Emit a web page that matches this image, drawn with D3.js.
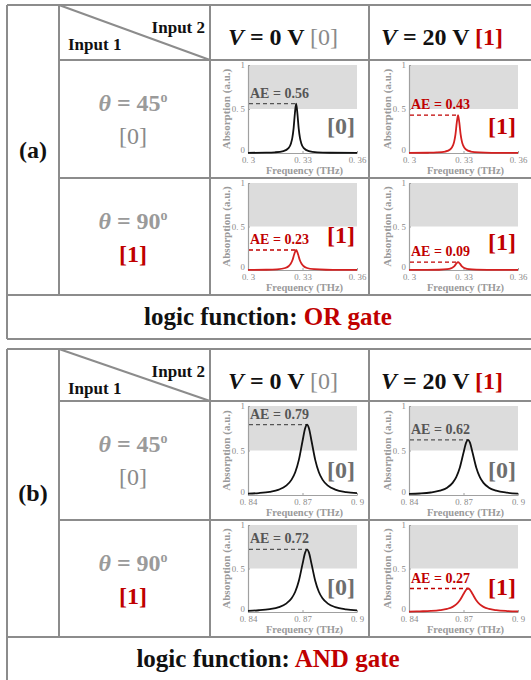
<!DOCTYPE html>
<html><head><meta charset="utf-8">
<script src="https://cdn.jsdelivr.net/npm/d3@7"></script>
<style>
body{margin:0;background:#fff}
svg{display:block}
text{font-family:"Liberation Serif","Times New Roman",serif}
</style>
</head><body>
<svg id="chart" width="531" height="680"></svg>
<script>
// ---------------- data ----------------
const panelLabels = ["(a)", "(b)"];
const gateNames = ["OR gate", "AND gate"];
const thetaValues = ["45", "90"];
const input1Bits = [0, 1];
const voltValues = ["0", "20"];
const input2Bits = [0, 1];

const freqTicksA = [0.3, 0.33, 0.36];
const freqTickLabelsA = ["0. 3", "0. 33", "0. 36"];
const freqTicksB = [0.84, 0.87, 0.9];
const freqTickLabelsB = ["0. 84", "0. 87", "0. 9"];
const absTicks = [0, 0.5, 1];
const absTickLabels = ["0", "0. 5", "1"];

const aeA = [[0.56, 0.43], [0.23, 0.09]];
const aeB = [[0.79, 0.62], [0.72, 0.27]];
const outA = [[0, 1], [1, 1]];
const outB = [[0, 0], [0, 1]];

// (a) spectra
const freqA45V0 = [0.300,0.310,0.3148,0.3195,0.3223,0.3237,0.3244,0.3251,0.3258,0.3265,0.3272,0.3279,0.3286,0.3293,0.3307,0.3335,0.3382,0.345,0.360];
const absA45V0  = [0.002,0.004,0.008,0.022,0.056,0.112,0.172,0.280,0.448,0.560,0.448,0.280,0.172,0.112,0.056,0.022,0.008,0.003,0.001];
const freqA45V20 = [0.300,0.3105,0.3153,0.320,0.3228,0.3242,0.3249,0.3256,0.3263,0.327,0.3277,0.3284,0.3291,0.3298,0.3312,0.334,0.3387,0.3455,0.360];
const absA45V20  = [0.001,0.003,0.006,0.017,0.043,0.086,0.132,0.215,0.344,0.430,0.344,0.215,0.132,0.086,0.043,0.017,0.006,0.002,0.001];
const freqA90V0 = [0.300,0.310,0.316,0.3205,0.3225,0.3235,0.3245,0.3255,0.3265,0.3275,0.3285,0.3295,0.3305,0.3325,0.3365,0.343,0.350,0.360];
const absA90V0  = [0.001,0.003,0.008,0.023,0.046,0.071,0.115,0.184,0.230,0.184,0.115,0.071,0.046,0.023,0.009,0.003,0.002,0.001];
const freqA90V20 = [0.300,0.310,0.3165,0.321,0.323,0.324,0.325,0.326,0.327,0.328,0.329,0.330,0.331,0.333,0.337,0.3435,0.350,0.360];
const absA90V20  = [0.0005,0.001,0.003,0.009,0.018,0.028,0.045,0.072,0.090,0.072,0.045,0.028,0.018,0.009,0.0035,0.0013,0.0007,0.0003];

// (b) spectra
const freqB = [0.840,0.846,0.852,0.857,0.861,0.864,0.866,0.868,0.870,0.8715,0.8725,0.8735,0.875,0.877,0.879,0.881,0.884,0.888,0.894,0.900];
const absB45V0  = [0.015,0.022,0.036,0.061,0.105,0.173,0.256,0.395,0.604,0.753,0.790,0.753,0.604,0.395,0.256,0.173,0.105,0.061,0.033,0.021];
const absB45V20 = [0.012,0.017,0.028,0.048,0.082,0.136,0.201,0.310,0.474,0.591,0.620,0.591,0.474,0.310,0.201,0.136,0.082,0.048,0.026,0.016];
const absB90V0  = [0.014,0.020,0.033,0.056,0.096,0.158,0.233,0.360,0.550,0.686,0.720,0.686,0.550,0.360,0.233,0.158,0.096,0.056,0.030,0.019];
const absB90V20 = [0.005,0.008,0.012,0.021,0.036,0.059,0.087,0.135,0.206,0.257,0.270,0.257,0.206,0.135,0.087,0.059,0.036,0.021,0.011,0.007];

// ---------------- build ----------------
const panels = [
  { label: panelLabels[0], gate: gateNames[0], ae: aeA, out: outA,
    xDomain: [0.3, 0.36], xTicks: freqTicksA, xTickLabels: freqTickLabelsA,
    curves: [[[freqA45V0, absA45V0], [freqA45V20, absA45V20]],
             [[freqA90V0, absA90V0], [freqA90V20, absA90V20]]] },
  { label: panelLabels[1], gate: gateNames[1], ae: aeB, out: outB,
    xDomain: [0.84, 0.9], xTicks: freqTicksB, xTickLabels: freqTickLabelsB,
    curves: [[[freqB, absB45V0], [freqB, absB45V20]],
             [[freqB, absB90V0], [freqB, absB90V20]]] }
];

// layout (pixels)
const layout = [
  { rows: [5, 60, 178, 295, 339], bigY: [[0.22, 0.22], [0.31, 0.23]] },
  { rows: [349, 401, 520, 637, 720], bigY: [[0.19, 0.19], [0.19, 0.2]] }
];
const colX = [7, 59, 210, 369, 533];
const plotOffX = [38, 40];
const plotW = 109;

const RED = "#c00000", CURVE_RED = "#d42020", GRID = "#8c8c8c";
const svg = d3.select("#chart");
svg.append("rect").attr("width", 531).attr("height", 680).attr("fill", "#fff");

panels.forEach((P, pi) => {
  const L = layout[pi];
  const R = L.rows;
  const g = svg.append("g");

  // ---- plots ----
  for (let r = 0; r < 2; r++) {
    for (let c = 0; c < 2; c++) {
      const x0 = colX[2 + c] + plotOffX[c];
      const y0 = R[1 + r] + 5;
      const plotH = R[2 + r] - R[1 + r] - 30;
      const x = d3.scaleLinear().domain(P.xDomain).range([x0, x0 + plotW]);
      const y = d3.scaleLinear().domain([0, 1]).range([y0 + plotH, y0]);
      const bit = P.out[r][c];
      const pg = g.append("g");
      pg.append("rect").attr("x", x0).attr("y", y(1)).attr("width", plotW)
        .attr("height", y(0.5) - y(1)).attr("fill", "#dcdcdc");

      const xa = pg.append("g").attr("transform", `translate(0,${y(0)})`)
        .call(d3.axisBottom(x).tickValues(P.xTicks).tickSizeInner(-2).tickSizeOuter(0)
          .tickFormat((d, i) => P.xTickLabels[i]));
      const ya = pg.append("g").attr("transform", `translate(${x0},0)`)
        .call(d3.axisLeft(y).tickValues(absTicks).tickSizeInner(-2).tickSizeOuter(0)
          .tickFormat((d, i) => absTickLabels[i]));
      [xa, ya].forEach(a => {
        a.select(".domain").attr("stroke", "#a0a0a0").attr("stroke-width", 1.2);
        a.selectAll(".tick line").attr("stroke", "#a0a0a0");
        a.selectAll("text").attr("fill", "#8a8a8a").style("font-size", "8.8px")
          .style("font-family", "'Liberation Serif',serif");
      });
      xa.selectAll("text").attr("y", 9.5).attr("dy", 0);
      ya.selectAll("text").attr("x", -3).attr("dy", (d) => d === 0 ? "-0.08em" : "0.32em");

      pg.append("text").attr("x", (x0 + x0 + plotW) / 2 + 2).attr("y", y(0) + 20.8)
        .attr("text-anchor", "middle").attr("fill", "#9a9a9a")
        .style("font-size", "10.5px").style("font-weight", "bold").text("Frequency (THz)");
      pg.append("text").attr("transform", `translate(${x0 - 18},${(y(0) + y(1)) / 2}) rotate(-90)`)
        .attr("text-anchor", "middle").attr("fill", "#9a9a9a")
        .style("font-size", "11px").style("font-weight", "bold").text("Absorption (a.u.)");

      const [fx, fy] = P.curves[r][c];
      const pts = fx.map((f, i) => [f, fy[i]]);
      const ae = P.ae[r][c];
      const peakIdx = d3.maxIndex(fy);
      const annCol = bit ? RED : "#555";
      pg.append("line").attr("x1", x0 + 1).attr("x2", x(fx[peakIdx]))
        .attr("y1", y(ae)).attr("y2", y(ae)).attr("stroke", annCol)
        .attr("stroke-width", 1.3).attr("stroke-dasharray", "4,3");
      pg.append("path").datum(pts)
        .attr("d", d3.line().x(d => x(d[0])).y(d => y(d[1])).curve(d3.curveMonotoneX))
        .attr("fill", "none").attr("stroke", bit ? CURVE_RED : "#111").attr("stroke-width", 1.8);
      pg.append("text").attr("x", x0 + 2).attr("y", y(ae) - 6).attr("fill", annCol)
        .style("font-size", "14px").style("font-weight", "bold").text(`AE = ${ae.toFixed(2)}`);
      pg.append("text").attr("x", x0 + plotW - 2).attr("y", y(L.bigY[r][c]))
        .attr("text-anchor", "end").attr("fill", bit ? RED : "#6e6e6e")
        .style("font-size", "24px").style("font-weight", "bold").text(`[${bit}]`);
    }
  }

  // ---- table lines ----
  const line = (x1, y1, x2, y2) => g.append("line").attr("x1", x1).attr("y1", y1)
    .attr("x2", x2).attr("y2", y2).attr("stroke", GRID).attr("stroke-width", 2);
  line(colX[0], R[0], colX[4], R[0]);
  line(colX[0], R[0], colX[0], R[4]);
  line(colX[1], R[0], colX[1], R[3]);
  line(colX[2], R[0], colX[2], R[3]);
  line(colX[3], R[0], colX[3], R[3]);
  line(colX[1], R[1], colX[4], R[1]);
  line(colX[1], R[2], colX[4], R[2]);
  line(colX[0], R[3], colX[4], R[3]);
  line(colX[0], R[4], colX[4], R[4]);
  line(colX[1], R[0], colX[2], R[1]);

  // ---- header texts ----
  g.append("text").attr("x", colX[2] - 5).attr("y", R[0] + 28).attr("text-anchor", "end")
    .style("font-size", "17px").style("font-weight", "bold").attr("fill", "#111").text("Input 2");
  g.append("text").attr("x", colX[1] + 9).attr("y", R[0] + 45)
    .style("font-size", "17px").style("font-weight", "bold").attr("fill", "#111").text("Input 1");

  const vCenters = [283, 442];
  for (let c = 0; c < 2; c++) {
    const t = g.append("text").attr("x", vCenters[c]).attr("y", R[0] + 40)
      .attr("text-anchor", "middle").style("font-size", "24px").style("font-weight", "bold").attr("fill", "#111");
    t.append("tspan").style("font-style", "italic").text("V");
    t.append("tspan").text(` = ${voltValues[c]} V `);
    const b = input2Bits[c];
    t.append("tspan").attr("fill", b ? RED : "#8a8a8a").style("font-weight", b ? "bold" : "normal").text(`[${b}]`);
  }

  // ---- row labels ----
  for (let r = 0; r < 2; r++) {
    const top = R[1 + r];
    const t = g.append("text").attr("x", 133).attr("y", top + 51).attr("text-anchor", "middle")
      .style("font-size", "24px").style("font-weight", "bold").attr("fill", "#9a9a9a");
    t.append("tspan").style("font-style", "italic").text("θ");
    t.append("tspan").text(` = ${thetaValues[r]}`);
    t.append("tspan").attr("dy", -9).style("font-size", "14px").text("o");
    const b = input1Bits[r];
    g.append("text").attr("x", 133).attr("y", top + 84).attr("text-anchor", "middle")
      .style("font-size", "24px").style("font-weight", b ? "bold" : "normal")
      .attr("fill", b ? RED : "#8a8a8a").text(`[${b}]`);
  }

  g.append("text").attr("x", 33).attr("y", (R[0] + R[3]) / 2 + 8).attr("text-anchor", "middle")
    .style("font-size", "24px").style("font-weight", "bold").attr("fill", "#111").text(P.label);

  const lt = g.append("text").attr("x", 268).attr("y", R[3] + 30).attr("text-anchor", "middle")
    .style("font-size", "25px").style("font-weight", "bold").attr("fill", "#111");
  lt.append("tspan").text("logic function:  ");
  lt.append("tspan").attr("fill", RED).text(P.gate);
});
</script>
</body></html>
